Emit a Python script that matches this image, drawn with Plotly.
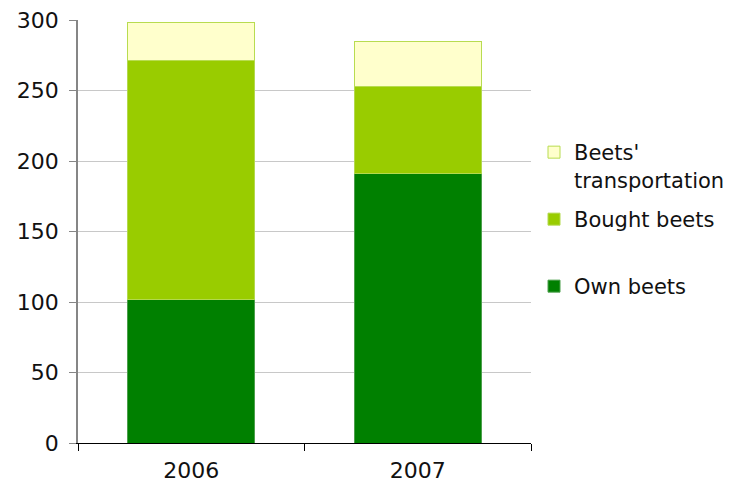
import plotly.graph_objects as go

# Beet costs by year, stacked by component
years = ["2006", "2007"]
own_beets = [102, 191]
bought_beets = [169, 62]
transportation = [27, 32]

series_names = ["Own beets", "Bought beets", "Beets'<br>transportation"]
fill_colors = ["#008000", "#99CC00", "#FFFFCC"]
edge_colors = ["#4C9F4C", "#B3D94D", "#B8DC50"]
legend_ids = ["legend3", "legend2", "legend"]

FONT = "DejaVu Sans, Verdana, sans-serif"
FS = 22
LFS = 21
W, H = 731, 490

fig = go.Figure()
for name, vals, fc, ec, lg in zip(series_names,
                                  [own_beets, bought_beets, transportation],
                                  fill_colors, edge_colors, legend_ids):
    fig.add_trace(go.Bar(
        x=years, y=vals, name=name,
        marker=dict(color=fc, line=dict(color=ec, width=1)),
        legend=lg,
    ))


def legend_at(top_px):
    # legend box placed in container pixels (from top-left)
    return dict(
        xref="container", yref="container",
        xanchor="left", yanchor="top",
        x=534 / W, y=1 - top_px / H,
        bgcolor="rgba(0,0,0,0)",
        font=dict(family=FONT, size=LFS, color="#111111"),
        valign="top",
        itemclick=False, itemdoubleclick=False,
    )


fig.update_layout(
    barmode="stack",
    bargap=0.44,
    width=W, height=H,
    margin=dict(l=78, r=200, t=20, b=47, autoexpand=False),
    paper_bgcolor="white",
    plot_bgcolor="white",
    font=dict(family=FONT, size=FS, color="#111111"),
    showlegend=True,
    legend=legend_at(132),
    legend2=legend_at(199),
    legend3=legend_at(266),
    xaxis=dict(
        type="category", automargin=False,
        showline=True, linecolor="#000000", linewidth=1,
        ticks="outside", tickson="boundaries", ticklen=7,
        tickcolor="#000000", ticklabelstandoff=8,
        tickfont=dict(family=FONT, size=FS, color="#111111"),
        showgrid=False,
    ),
    yaxis=dict(
        range=[0, 300], dtick=50, automargin=False,
        showline=True, linecolor="#868686", linewidth=1.5,
        ticks="outside", ticklen=7, tickcolor="#868686",
        ticklabelstandoff=6,
        showgrid=True, gridcolor="#C8C8C8", gridwidth=1,
        zeroline=False,
        tickfont=dict(family=FONT, size=FS, color="#111111"),
    ),
)

fig.write_html("out.html")
